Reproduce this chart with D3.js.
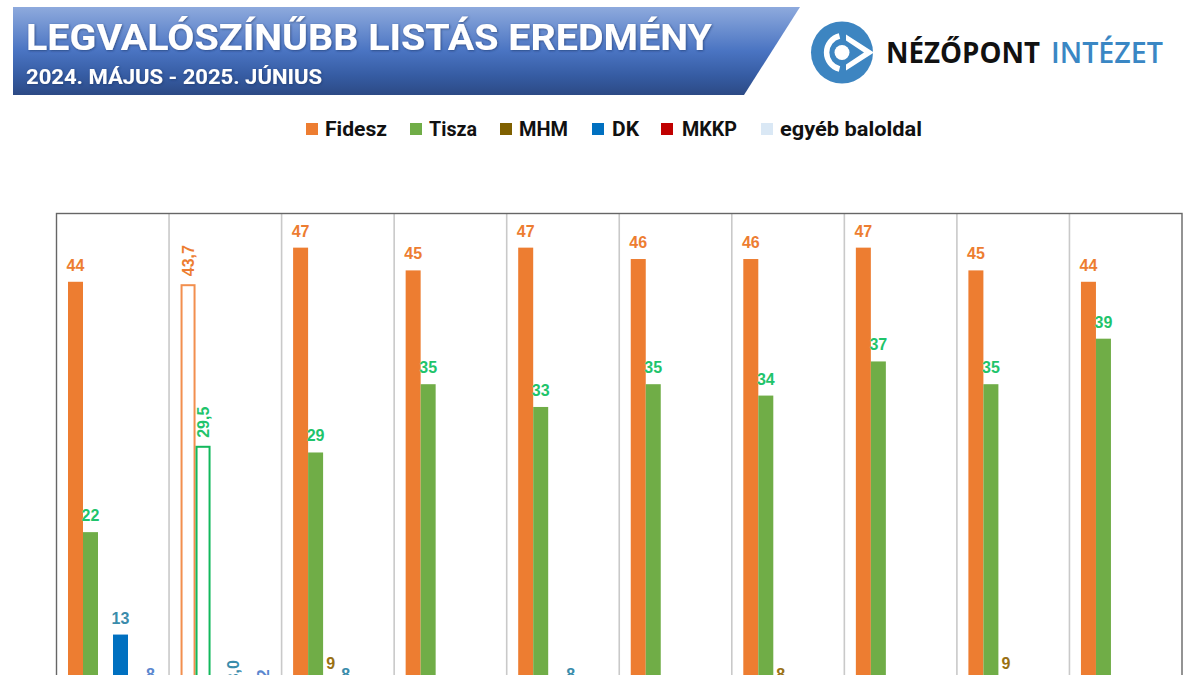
<!DOCTYPE html>
<html>
<head>
<meta charset="utf-8">
<script src="https://cdn.jsdelivr.net/npm/d3@7"></script>
<style>
  html, body { margin: 0; padding: 0; background: #fff; overflow: hidden; }
  text { font-family: "Liberation Sans", sans-serif; }
</style>
</head>
<body>
<script>
//data, null = under the bottom edge of the picture
const waves = [1, 2, 3, 4, 5, 6, 7, 8, 9, 10]
const electionWave = 2

const seriesNames = ["Fidesz", "Tisza", "MHM", "DK", "MKKP", "egyéb baloldal"]
const fidesz = [44, 43.7, 47, 45, 47, 46, 46, 47, 45, 44]
const tisza = [22, 29.5, 29, 35, 33, 35, 34, 37, 35, 39]
const mhm = [null, 6.7, 9, null, null, null, 8, null, 9, null]
const dk = [13, 8.0, 8, null, 8, null, null, null, null, null]
const mkkp = [null, null, null, null, null, null, null, null, null, null]
const egyeb = [8, 7.2, null, null, null, null, null, null, null, null]
const seriesValues = [fidesz, tisza, mhm, dk, mkkp, egyeb]

const barColors = ["#ED7D31", "#70AD47", "#7F6000", "#0070C0", "#C00000", "#DAE8F5"]
const labelColors = ["#ED7D31", "#1FC46B", "#9A7114", "#3A8CAB", "#C00000", "#5B87CF"]
const outlineColors = ["#F28F4E", "#12B85C", "#9A7114", "#3A8CAB", "#C00000", "#5B87CF"]

const w = 1200
const h = 675

const svg = d3.select("body")
              .append("svg")
              .attr("width", w)
              .attr("height", h)
              .style("display", "block")

const defs = svg.append("defs")
const grad = defs.append("linearGradient")
                 .attr("id", "banner")
                 .attr("x1", 0).attr("x2", 0).attr("y1", 0).attr("y2", 1)
grad.selectAll("stop")
    .data([[0, "#8EAADD"], [0.5, "#4A74C2"], [0.78, "#365CA3"], [1, "#2C4A85"]])
    .enter()
    .append("stop")
    .attr("offset", d => d[0])
    .attr("stop-color", d => d[1])
const shadow = defs.append("filter").attr("id", "soft")
shadow.append("feDropShadow")
      .attr("dx", 0.8).attr("dy", 0.8).attr("stdDeviation", 0.8)
      .attr("flood-color", "#1d3566").attr("flood-opacity", 0.7)

//banner
svg.append("path")
   .attr("d", "M13,7 L800,7 L744,95 L13,95 Z")
   .attr("fill", "url(#banner)")
svg.append("text")
   .text("LEGVALÓSZÍNŰBB LISTÁS EREDMÉNY")
   .attr("x", 26).attr("y", 50)
   .attr("textLength", 686)
   .attr("lengthAdjust", "spacingAndGlyphs")
   .attr("fill", "#fff")
   .attr("filter", "url(#soft)")
   .style("font-family", "Roboto")
   .style("font-weight", 700)
   .style("font-size", "37px")
svg.append("text")
   .text("2024. MÁJUS - 2025. JÚNIUS")
   .attr("x", 26).attr("y", 84)
   .attr("textLength", 296)
   .attr("lengthAdjust", "spacingAndGlyphs")
   .attr("fill", "#fff")
   .attr("filter", "url(#soft)")
   .style("font-family", "Roboto")
   .style("font-weight", 700)
   .style("font-size", "20px")

//logo
const logo = svg.append("g")
logo.append("circle").attr("cx", 842).attr("cy", 52.5).attr("r", 31).attr("fill", "#3D85C1")
logo.append("path")
    .attr("d", "M839.5,36 A17,17 0 0 0 839.5,69")
    .attr("fill", "none").attr("stroke", "#fff").attr("stroke-width", 5.5)
logo.append("path")
    .attr("d", "M846,34.5 L874,52.5 L846,70.5 L846,64.5 L864,52.5 L846,40.5 Z")
    .attr("fill", "#fff")
logo.append("circle").attr("cx", 842).attr("cy", 52.5).attr("r", 7.5).attr("fill", "#fff")
logo.append("text")
    .text("NÉZŐPONT")
    .attr("x", 886).attr("y", 63)
    .attr("textLength", 154)
    .attr("lengthAdjust", "spacingAndGlyphs")
    .attr("fill", "#111")
    .style("font-family", "Open Sans")
    .style("font-weight", 700)
    .style("font-size", "29px")
logo.append("text")
    .text("INTÉZET")
    .attr("x", 1051).attr("y", 63)
    .attr("textLength", 112)
    .attr("lengthAdjust", "spacingAndGlyphs")
    .attr("fill", "#3A87C4")
    .style("font-family", "Open Sans")
    .style("font-weight", 600)
    .style("font-size", "29px")

//legend
const legendSwatchX = [306, 410, 500, 592, 661, 761]
const legendTextX = [325, 429, 519, 612, 682, 780]
const legendTextW = [62, 48, 49, 27, 55, 142]
const legend = svg.selectAll(".legend")
                  .data(seriesNames)
                  .enter()
                  .append("g")
                  .attr("class", "legend")
legend.append("rect")
      .attr("x", (d, i) => legendSwatchX[i])
      .attr("y", 123)
      .attr("width", 12)
      .attr("height", 12)
      .attr("fill", (d, i) => barColors[i])
legend.append("text")
      .text(d => d)
      .attr("x", (d, i) => legendTextX[i])
      .attr("y", 136)
      .attr("textLength", (d, i) => legendTextW[i])
      .attr("lengthAdjust", "spacingAndGlyphs")
      .attr("fill", "#111")
      .style("font-family", "Roboto")
      .style("font-weight", 700)
      .style("font-size", "20px")

//scales, the zero line sits under the bottom of the picture
const x = d3.scaleBand()
            .domain(waves)
            .range([56.5, 1182])
const slot = d3.scaleBand()
               .domain(seriesNames)
               .range([11.5, 101.5])
const y = d3.scaleLinear()
            .domain([0, 50])
            .range([782.5, 213.5])

//frame and dividers
svg.selectAll(".divider")
   .data(waves.slice(1))
   .enter()
   .append("line")
   .attr("class", "divider")
   .attr("x1", d => x(d))
   .attr("x2", d => x(d))
   .attr("y1", y(50))
   .attr("y2", y(0))
   .attr("stroke", "#C9C9C9")
   .attr("stroke-width", 1.6)
svg.append("rect")
   .attr("x", x.range()[0])
   .attr("y", y(50))
   .attr("width", x.range()[1] - x.range()[0])
   .attr("height", y(0) - y(50))
   .attr("fill", "none")
   .attr("stroke", "#666")
   .attr("stroke-width", 1.4)

//bars and labels
const marks = []
seriesValues.forEach((values, s) => {
    values.forEach((v, i) => {
        if (v !== null) marks.push({ s: s, wave: waves[i], value: v })
    })
})
const cx = d => x(d.wave) + slot(seriesNames[d.s]) + slot.bandwidth() / 2
const isElection = d => d.wave === electionWave

svg.selectAll(".bar")
   .data(marks)
   .enter()
   .append("rect")
   .attr("class", "bar")
   .attr("x", d => x(d.wave) + slot(seriesNames[d.s]) + (isElection(d) ? 1 : 0))
   .attr("y", d => y(d.value))
   .attr("width", d => slot.bandwidth() - (isElection(d) ? 2 : 0))
   .attr("height", d => y(0) - y(d.value))
   .attr("fill", d => isElection(d) ? "#fff" : barColors[d.s])
   .attr("stroke", d => isElection(d) ? outlineColors[d.s] : "none")
   .attr("stroke-width", 2)

svg.selectAll(".label")
   .data(marks)
   .enter()
   .append("text")
   .attr("class", "label")
   .text(d => isElection(d) ? d3.format(".1f")(d.value).replace(".", ",") : d.value)
   .attr("transform", d => isElection(d)
       ? "translate(" + cx(d) + ", " + (y(d.value) - 9) + ") rotate(-90)"
       : "translate(" + cx(d) + ", " + (y(d.value) - 11) + ")")
   .attr("dy", d => isElection(d) ? "0.36em" : 0)
   .attr("text-anchor", d => isElection(d) ? "start" : "middle")
   .attr("fill", d => labelColors[d.s])
   .style("font-weight", 700)
   .style("font-size", "16px")
</script>
</body>
</html>
